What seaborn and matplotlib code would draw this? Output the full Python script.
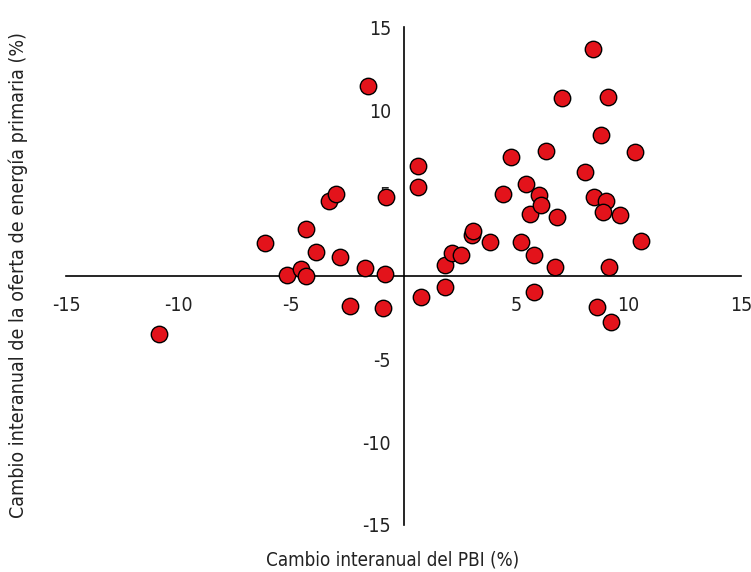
import numpy as np
import pandas as pd
import matplotlib
matplotlib.use("Agg")
import matplotlib.pyplot as plt
import seaborn as sns

# cambio interanual del PBI (%)
pbi = [-10.87, -6.16, -5.20, -4.55, -4.34, -4.34, -3.89, -3.33, -2.99, -2.83,
       -2.38, -1.71, -0.93, -0.81, -0.77, -1.58, 0.63, 0.66, 0.78, 1.85,
       1.86, 2.14, 2.57, 3.05, 3.11, 3.86, 4.41, 4.77, 5.21, 5.45,
       5.63, 5.78, 5.78, 6.00, 6.09, 6.32, 6.80, 6.74, 8.05, 8.46,
       8.62, 8.43, 7.04, 9.09, 8.79, 10.27, 9.01, 8.85, 9.64, 10.57,
       9.13, 9.20]
# cambio interanual de la oferta de energia primaria (%)
energia = [-3.48, 1.98, 0.05, 0.43, -0.01, 2.86, 1.46, 4.51, 4.97, 1.17,
           -1.82, 0.51, -1.90, 0.11, 4.79, 11.50, 5.37, 6.66, -1.28, 0.67,
           -0.67, 1.42, 1.28, 2.46, 2.74, 2.06, 4.97, 7.16, 2.06, 5.55,
           3.77, 1.28, -0.97, 4.91, 4.31, 7.56, 3.57, 0.53, 6.31, 4.79,
           -1.86, 13.72, 10.75, 10.81, 8.51, 7.50, 4.55, 3.89, 3.70, 2.14,
           0.53, -2.76]
ticks = [-15, -10, -5, 5, 10, 15]

df = pd.DataFrame({"pbi": pbi, "energia": energia})

sns.set_style("white")
plt.rcParams["font.family"] = ["DejaVu Sans"]
plt.rcParams["font.stretch"] = "condensed"
plt.rcParams["axes.unicode_minus"] = False

fig = plt.figure(figsize=(7.51, 5.72), dpi=100)
ax = fig.add_axes([0.0879, 0.0822, 0.8988, 0.8698])

sns.scatterplot(data=df, x="pbi", y="energia", ax=ax, s=140,
                color="#E3131B", edgecolor="black", linewidth=1.0, zorder=3)

ax.set_xlim(-15, 15)
ax.set_ylim(-15, 15)
ax.spines["left"].set_position(("data", 0))
ax.spines["bottom"].set_position(("data", 0))
ax.spines["top"].set_visible(False)
ax.spines["right"].set_visible(False)
for s in ["left", "bottom"]:
    ax.spines[s].set_color("black")
    ax.spines[s].set_linewidth(1.2)

ax.set_xticks(ticks)
ax.set_yticks(ticks)
ax.set_xticklabels([str(t) for t in ticks])
ax.set_yticklabels([str(t) for t in ticks])
ax.tick_params(axis="both", direction="out", length=6, width=1.2,
               labelsize=14, color="black", labelcolor="#222222")
ax.tick_params(axis="x", pad=8)
ax.tick_params(axis="y", pad=3)

ax.set_xlabel("Cambio interanual del PBI (%)", fontsize=13.5, color="#222222")
ax.set_ylabel("Cambio interanual de la oferta de energía primaria (%)",
              fontsize=14, color="#222222")
ax.xaxis.set_label_coords(0.484, -0.052)
ax.yaxis.set_label_coords(-0.056, 0.503)

fig.savefig("out.png", dpi=100)
